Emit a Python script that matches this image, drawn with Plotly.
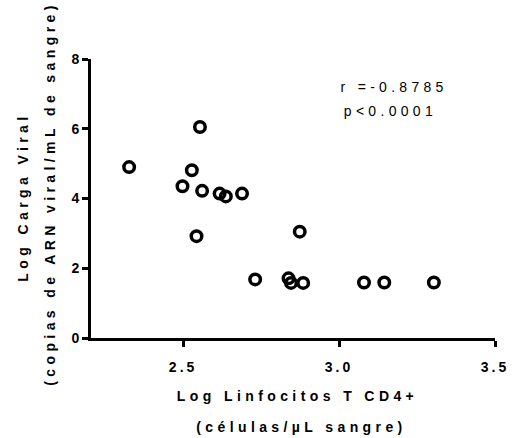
import plotly.graph_objects as go

# Data
cd4_log = [2.327, 2.554, 2.528, 2.498, 2.561, 2.617, 2.637, 2.689, 2.543,
           2.731, 2.838, 2.846, 2.885, 2.874, 3.080, 3.145, 3.304]
viral_log = [4.90, 6.05, 4.81, 4.35, 4.22, 4.14, 4.06, 4.14, 2.92,
             1.68, 1.71, 1.58, 1.58, 3.05, 1.59, 1.59, 1.59]
x_ticks = [2.5, 3.0, 3.5]
y_ticks = [0, 2, 4, 6, 8]
x_title = ["Log Linfocitos T CD4+", "(células/µL sangre)"]
y_title = ["Log Carga Viral", "(copias de ARN viral/mL de sangre)"]
stats_text = ["r =-0.8785", "p<0.0001"]

W, H = 517, 438
L, R, T, B = 91, 12, 59, 100
PW, PH = W - L - R, H - T - B

def px(xp):
    return (xp - L) / PW

def py(yp):
    return (H - B - yp) / PH

FONT = "Liberation Sans, Arial, sans-serif"

fig = go.Figure()
fig.add_trace(go.Scatter(
    x=cd4_log, y=viral_log, mode="markers",
    marker=dict(symbol="circle-open", size=10.5, color="black",
                line=dict(width=3.5, color="black")),
    showlegend=False, hoverinfo="skip"))

axis_common = dict(showline=True, linewidth=3, linecolor="black",
                   ticks="outside", ticklen=6, tickwidth=3, tickcolor="black",
                   showgrid=False, zeroline=False,
                   tickfont=dict(family=FONT, size=14, color="black", weight=700))

fig.update_xaxes(range=[2.2047, 3.5], tickvals=x_ticks,
                 ticktext=[f"<b>{v:.1f}</b>" for v in x_ticks], ticklabelstandoff=8,
                 **axis_common)
fig.update_yaxes(range=[0, 8], tickvals=y_ticks,
                 ticktext=[f"<b>{v}</b>" for v in y_ticks], **axis_common)

ann = []
title_font = dict(family=FONT, size=14, color="black", weight="bold")
# x title lines
ann.append(dict(text=x_title[0], x=px(303), y=py(396), xref="paper", yref="paper",
                xanchor="center", yanchor="middle", showarrow=False, font=title_font))
ann.append(dict(text=x_title[1], x=px(307), y=py(427), xref="paper", yref="paper",
                xanchor="center", yanchor="middle", showarrow=False, font=title_font))
# y title lines
ann.append(dict(text=y_title[0], x=px(21), y=py(197), xref="paper", yref="paper",
                xanchor="center", yanchor="middle", textangle=-90, showarrow=False,
                font=title_font))
ann.append(dict(text=y_title[1], x=px(49), y=py(194), xref="paper", yref="paper",
                xanchor="center", yanchor="middle", textangle=-90, showarrow=False,
                font=title_font))
# stats
stat_font = dict(family=FONT, size=14, color="black")
ann.append(dict(text=stats_text[0], x=px(402), y=py(87), xref="paper", yref="paper",
                xanchor="center", yanchor="middle", showarrow=False, font=stat_font))
ann.append(dict(text=stats_text[1], x=px(398), y=py(111), xref="paper", yref="paper",
                xanchor="center", yanchor="middle", showarrow=False, font=stat_font))

fig.update_layout(width=W, height=H, margin=dict(l=L, r=R, t=T, b=B),
                  plot_bgcolor="white", paper_bgcolor="white",
                  annotations=ann, font=dict(family=FONT))

post = """
document.body.style.margin = '0';
document.body.style.padding = '0';
var gd = document.getElementById('{plot_id}');
gd.querySelectorAll('.annotation-text').forEach(function(t){
  var s = t.textContent;
  if (s.indexOf('r =') === 0 || s.indexOf('p<') === 0) {
    t.style.letterSpacing = '4.3px';
  } else {
    t.style.letterSpacing = '4.4px';
  }
});
gd.querySelectorAll('.xtick text').forEach(function(t){
  t.style.letterSpacing = '3px';
});
"""

fig.write_html("out.html", post_script=post, config={"displayModeBar": False})
